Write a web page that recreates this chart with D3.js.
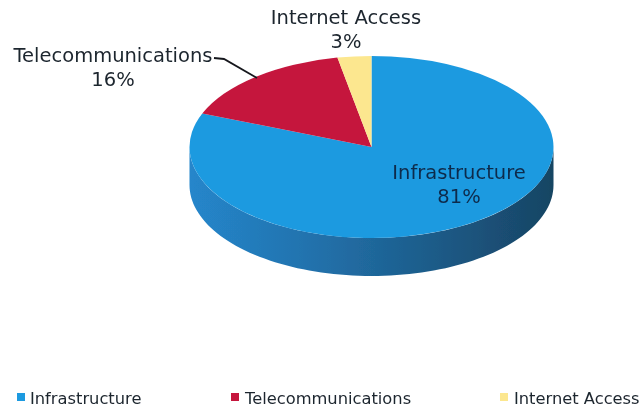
<!DOCTYPE html>
<html lang="en">
<head>
<meta charset="UTF-8">
<title>Infrastructure share</title>
<script src="https://d3js.org/d3.v7.min.js"></script>
<style>
    html, body { margin: 0; padding: 0; background: #fff; overflow: hidden; }
    svg { display: block; }
    text { font-family: "DejaVu Sans", sans-serif; fill: #1c252e; }
</style>
</head>
<body>
<svg id="chart" width="642" height="408"></svg>
<script>
const categories = ["Infrastructure", "Telecommunications", "Internet Access"];
const shares = [81, 16, 3];
const colors = ["#1e9ae0", "#c5143d", "#fce78f"];

const width = 642, height = 408;
const cx = 371.5, cy = 147, rx = 182, ry = 91, depth = 38;

const svg = d3.select("#chart");

const defs = svg.append("defs");
defs.append("filter").attr("id", "scan")
    .append("feGaussianBlur").attr("stdDeviation", 0.5);

const wallGrad = defs.append("linearGradient").attr("id", "wall");
[["0%", "#2586cb"], ["30%", "#2374b0"], ["62%", "#1d5f8e"], ["85%", "#1a4e74"], ["100%", "#174563"]]
    .forEach(s => wallGrad.append("stop").attr("offset", s[0]).attr("stop-color", s[1]));

const pie = d3.pie().sort(null).value(d => d.value);
const slices = pie(categories.map((name, i) => ({ name, value: shares[i], color: colors[i] })));

// arc is drawn round, the group's transform squashes it into the ellipse
const arc = d3.arc().innerRadius(0).outerRadius(rx);
const yScale = ry / rx;

const pieG = svg.append("g").attr("filter", "url(#scan)");

// front wall: lower half of the ellipse pushed down by the depth
const px = a => cx + rx * Math.sin(a);
const py = a => cy - ry * Math.cos(a);
const wallAngles = d3.range(Math.PI / 2, Math.PI * 1.5 + 0.001, Math.PI / 90);
const wall = d3.area()
    .x(a => px(a))
    .y0(a => py(a))
    .y1(a => py(a) + depth);
pieG.append("path")
    .attr("d", wall(wallAngles))
    .attr("fill", "url(#wall)");

pieG.append("g")
    .attr("transform", `translate(${cx},${cy}) scale(1,${yScale})`)
    .selectAll("path")
    .data(slices)
    .join("path")
    .attr("d", arc)
    .attr("fill", d => d.data.color);

// leader line for the telecom label
const leader = d3.line();
pieG.append("path")
    .attr("d", leader([[214, 58], [224, 59], [257, 78]]))
    .attr("fill", "none")
    .attr("stroke", "#15191d")
    .attr("stroke-width", 1.8);

const labels = [
    { x: 113, y: 62, idx: 1 },
    { x: 346, y: 24, idx: 2 },
    { x: 459, y: 179, idx: 0 }
];
const labelG = svg.append("g").attr("filter", "url(#scan)");
labels.forEach(l => {
    const t = labelG.append("text")
        .attr("text-anchor", "middle")
        .attr("font-size", 19.5)
        .style("fill", l.idx === 0 ? "#0d2c4c" : "#1c252e");
    t.append("tspan").attr("x", l.x).attr("y", l.y).text(categories[l.idx]);
    t.append("tspan").attr("x", l.x).attr("y", l.y + 23.5).text(shares[l.idx] + "%");
});

// legend
const legendX = d3.scaleOrdinal().domain(categories).range([18, 232, 501]);
const legend = svg.append("g").attr("filter", "url(#scan)")
    .selectAll("g").data(categories).join("g")
    .attr("transform", d => `translate(${legendX(d)},398)`);
legend.append("rect")
    .attr("x", -1).attr("y", -5).attr("width", 8).attr("height", 8)
    .attr("fill", (d, i) => colors[i]);
legend.append("text")
    .attr("x", d => d === "Internet Access" ? 13 : d === "Infrastructure" ? 12 : 13)
    .attr("y", 6)
    .attr("font-size", 16.3)
    .text(d => d);
</script>
</body>
</html>
